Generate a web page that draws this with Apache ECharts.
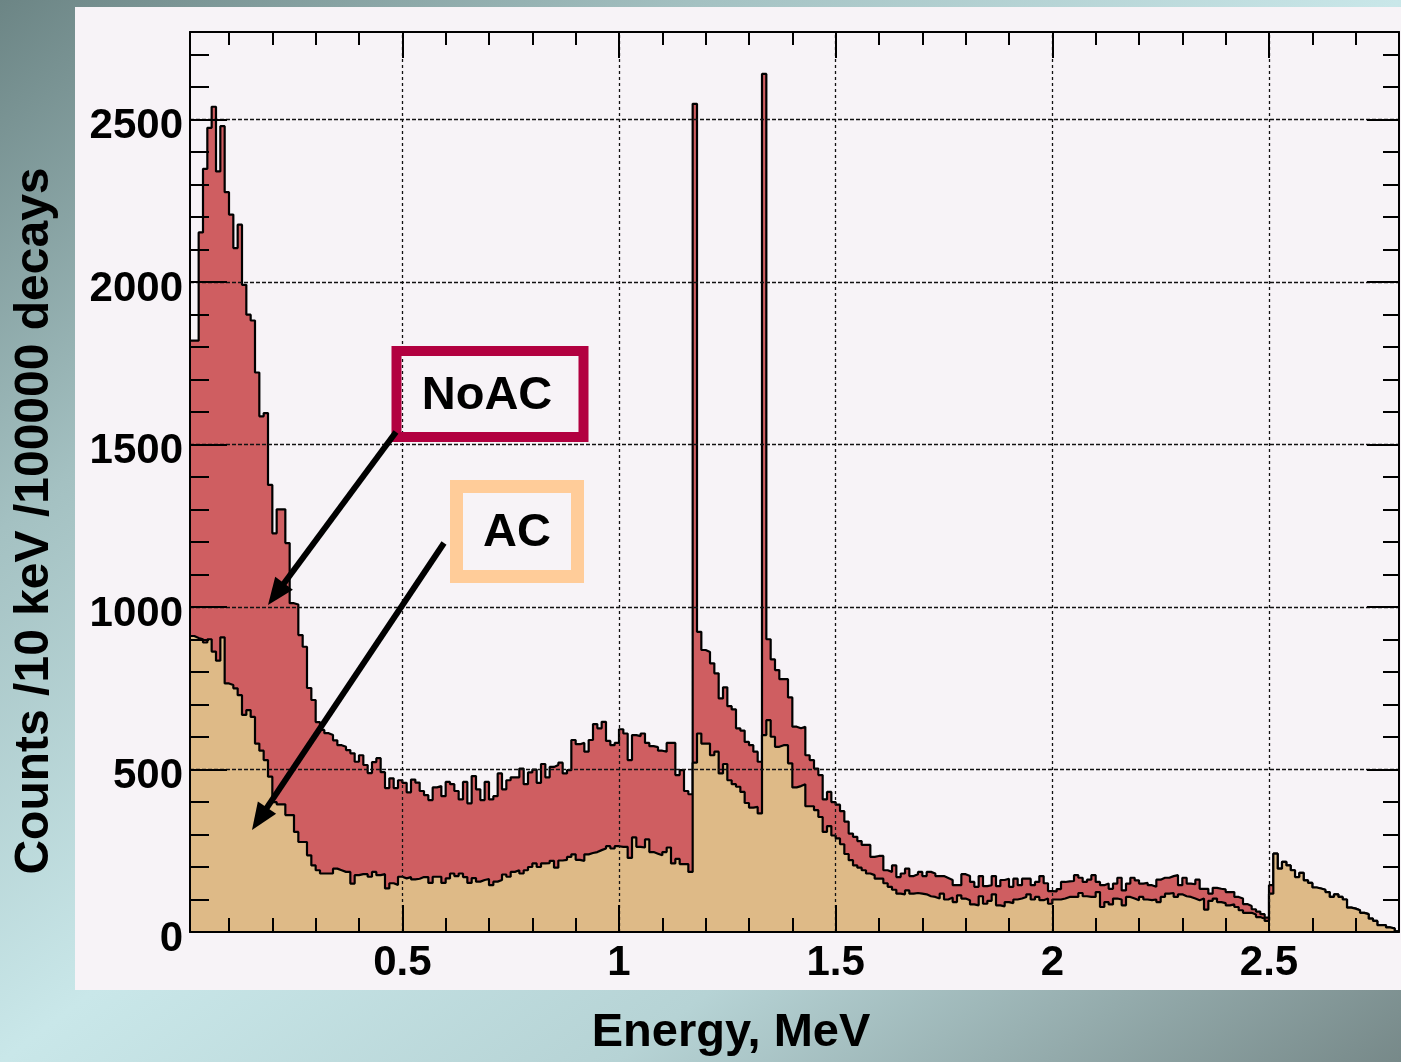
<!DOCTYPE html>
<html>
<head>
<meta charset="utf-8">
<title>Energy spectrum NoAC / AC</title>
<script src="https://cdn.jsdelivr.net/npm/echarts@6.0.0/dist/echarts.min.js"></script>
<style>
html, body { margin: 0; padding: 0; }
#wrap {
	position: relative; width: 1401px; height: 1062px; overflow: hidden;
	background: linear-gradient(to bottom right, #6c8585 0%, #a4c1c2 25%, #c9e7e9 50%, #b6d3d5 72%, #778989 100%);
}
#panel { position: absolute; left: 75px; top: 7px; width: 1326px; height: 983px; background: #f7f3f7; }
#main { position: absolute; left: 0; top: 0; width: 1401px; height: 1062px; }
</style>
</head>
<body>
<div id="wrap">
	<div id="panel"></div>
	<div id="main"></div>
</div>
<script>
	// 10 keV bins, first bin starts at 0.01 MeV
	var binStart = 0.01;
	var binWidth = 0.01;

	// counts per bin, without anti-compton
	var noAC = [
		1820,1820,2153,2349,2475,2540,2341,2480,2277,2208,
		2105,2177,1992,1900,1882,1722,1587,1597,1376,1227,
		1301,1301,1197,1012,1008,914,878,751,714,646,
		622,612,606,590,575,570,560,550,524,544,
		514,489,523,535,492,443,473,443,467,459,
		430,469,460,434,421,406,445,449,418,462,
		455,434,408,462,396,480,439,406,462,408,
		418,488,439,467,476,476,503,455,491,500,
		459,517,476,508,514,521,488,498,591,578,
		582,555,591,640,627,647,588,575,582,624,
		611,529,606,603,611,582,572,569,558,555,
		582,582,483,498,434,424,2549,924,868,862,
		827,796,719,753,695,685,627,620,585,575,
		555,524,2641,901,839,806,778,778,722,632,
		627,632,544,529,503,483,408,431,400,392,
		372,340,303,293,280,268,268,231,234,234,
		190,185,205,169,180,195,172,178,185,172,
		185,180,172,172,166,160,144,144,178,172,
		154,139,172,141,144,172,141,160,164,139,
		164,144,164,164,144,154,172,150,126,125,
		132,154,156,157,175,167,154,161,175,154,
		144,149,133,149,167,128,149,167,159,149,
		151,144,139,161,167,167,172,175,144,167,
		149,147,161,133,133,118,136,133,131,123,
		123,108,103,86,80,70,63,55,44,144,
		241,195,216,205,190,169,182,159,151,137,
		134,130,123,108,116,108,100,75,72,67,
		59,55,41,34,21,21,14,11,2
	];
	// counts per bin, with anti-compton
	var ac = [
		911,905,901,891,901,863,835,907,765,760,
		750,729,668,683,662,580,558,529,478,400,
		393,393,360,360,308,277,277,236,205,190,
		180,180,180,195,190,185,185,149,175,178,
		178,170,185,175,178,134,150,145,170,165,
		169,162,164,169,169,151,170,170,151,165,
		180,172,180,169,151,166,155,160,163,144,
		155,160,177,170,185,190,180,190,200,211,
		200,211,212,219,198,220,222,231,239,222,
		219,239,243,246,252,257,264,257,264,262,
		262,228,291,262,260,285,246,241,236,246,
		260,211,225,209,209,185,521,611,580,580,
		544,555,488,517,467,455,447,431,397,383,
		385,365,606,652,601,570,575,575,519,445,
		449,455,387,387,375,354,308,326,297,288,
		270,240,221,205,198,190,180,175,164,164,
		150,139,130,118,116,128,118,120,118,116,
		110,108,103,118,100,106,92,113,103,98,
		85,82,110,87,96,116,82,79,92,89,
		100,103,108,116,100,108,98,103,87,100,
		100,103,108,108,108,120,110,108,108,123,
		77,92,85,103,100,82,108,103,98,108,
		100,98,100,92,108,118,120,108,116,110,
		108,103,98,103,69,96,103,92,89,82,
		85,77,67,59,59,54,46,41,34,118,
		241,195,216,205,190,169,182,159,151,137,
		134,130,123,108,116,108,100,75,72,67,
		59,55,41,34,21,21,14,11,2
	];

	var xMajor = [0.5, 1, 1.5, 2, 2.5];
	var yMajor = [0, 500, 1000, 1500, 2000, 2500];
	var xMin = 0.01, xMax = 2.8;
	var yMin = 0, yMax = 2770;

	var xMinor = [];
	for (var k = 1; k <= 27; k++) { if (k % 5) xMinor.push(k / 10); }
	var yMinor = [];
	for (var j = 1; j <= 27; j++) { if (j % 5) yMinor.push(j * 100); }

	var FONT = '"Liberation Sans", Arial, sans-serif';

	// bin edges -> step points
	function toSteps(vals) {
		var pts = vals.map(function(v, i) {
			return [Math.round((binStart + i * binWidth) * 100) / 100, v];
		});
		pts.push([Math.round((binStart + vals.length * binWidth) * 100) / 100, vals[vals.length - 1]]);
		return pts;
	}
	function plain(v) { return String(v); }

	function xAxisDef(pos, ticks, len, withLine, withLabel) {
		return {
			type: 'value', position: pos, min: xMin, max: xMax, z: 5,
			axisLine: { show: withLine, onZero: false, lineStyle: { color: '#000', width: 2 } },
			axisTick: { show: true, inside: true, length: len, customValues: ticks, lineStyle: { color: '#000', width: 2 } },
			axisLabel: withLabel ? {
				show: true, customValues: xMajor, margin: 10, formatter: plain,
				color: '#000', fontSize: 42, fontWeight: 'bold', fontFamily: FONT
			} : { show: false },
			splitLine: { show: false }
		};
	}
	function yAxisDef(pos, ticks, len, withLine, withLabel) {
		return {
			type: 'value', position: pos, min: yMin, max: yMax, z: 5,
			axisLine: { show: withLine, onZero: false, lineStyle: { color: '#000', width: 2 } },
			axisTick: { show: true, inside: true, length: len, customValues: ticks, lineStyle: { color: '#000', width: 2 } },
			axisLabel: withLabel ? {
				show: true, customValues: yMajor, margin: 7, formatter: plain,
				verticalAlign: 'top', lineHeight: 14,
				color: '#000', fontSize: 42, fontWeight: 'bold', fontFamily: FONT
			} : { show: false },
			splitLine: { show: false }
		};
	}

	function $each(arr, fn) { for (var i = 0; i < arr.length; i++) fn(arr[i], i); }

	// dashed grid lines (drawn behind the histograms)
	var gridLines = [];
	$each(xMajor, function(v) {
		gridLines.push({ xAxis: v, lineStyle: { color: '#111', width: 1.3, type: [3, 3] } });
	});
	$each(yMajor.slice(1), function(v) {
		gridLines.push({ yAxis: v, lineStyle: { color: '#111', width: 1.3, type: [4, 2] } });
	});

	// annotation arrows: [x1, y1, x2, y2] in px
	function arrow(x1, y1, x2, y2) {
		var dx = x2 - x1, dy = y2 - y1, l = Math.sqrt(dx * dx + dy * dy);
		var ux = dx / l, uy = dy / l, hl = 27, hw = 11;
		var bx = x2 - ux * hl, by = y2 - uy * hl;
		return [
			{ type: 'line', z: 20, silent: true,
			  shape: { x1: x1, y1: y1, x2: bx + ux * 4, y2: by + uy * 4 },
			  style: { stroke: '#000', lineWidth: 6 } },
			{ type: 'polygon', z: 20, silent: true,
			  shape: { points: [[x2, y2], [bx - uy * hw, by + ux * hw], [bx + uy * hw, by - ux * hw]] },
			  style: { fill: '#000' } }
		];
	}

	var graphics = [
		{ type: 'text', x: 35, y: 521, rotation: Math.PI / 2, z: 20, silent: true,
		  style: { text: 'Counts /10 keV /100000 decays', font: 'bold 48px ' + FONT, fill: '#000', align: 'center', verticalAlign: 'middle' } },
		{ type: 'text', x: 731, y: 1033, z: 20, silent: true,
		  style: { text: 'Energy, MeV', font: 'bold 47px ' + FONT, fill: '#000', align: 'center', verticalAlign: 'middle' } },
		{ type: 'rect', z: 20, silent: true, shape: { x: 396.5, y: 351, width: 187, height: 86 },
		  style: { fill: 'rgba(0,0,0,0)', stroke: '#b20040', lineWidth: 10 } },
		{ type: 'text', x: 487, y: 396, z: 20, silent: true,
		  style: { text: 'NoAC', font: 'bold 47px ' + FONT, fill: '#000', align: 'center', verticalAlign: 'middle' } },
		{ type: 'rect', z: 20, silent: true, shape: { x: 456.5, y: 486.5, width: 121, height: 90 },
		  style: { fill: 'rgba(0,0,0,0)', stroke: '#ffcc99', lineWidth: 13 } },
		{ type: 'text', x: 517, y: 533, z: 20, silent: true,
		  style: { text: 'AC', font: 'bold 47px ' + FONT, fill: '#000', align: 'center', verticalAlign: 'middle' } }
	].concat(arrow(396, 432, 268, 605)).concat(arrow(444, 543, 252, 830));

	var myChart = echarts.init(document.getElementById('main'), null, { renderer: 'canvas' });
	var option = {
		animation: false,
		backgroundColor: 'transparent',
		grid: { left: 190, top: 32, right: 2, bottom: 130, containLabel: false, outerBoundsMode: 'none' },
		xAxis: [
			xAxisDef('bottom', xMajor, 27, true, true),
			xAxisDef('bottom', xMinor, 14, false, false),
			xAxisDef('top', xMajor, 26, true, false),
			xAxisDef('top', xMinor, 13, false, false)
		],
		yAxis: [
			yAxisDef('left', yMajor, 37, true, true),
			yAxisDef('left', yMinor, 19, false, false),
			yAxisDef('right', yMajor, 32, true, false),
			yAxisDef('right', yMinor, 16, false, false)
		],
		series: [
			{
				name: 'grid', type: 'line', data: [], z: 1, silent: true,
				markLine: { silent: true, symbol: 'none', animation: false, label: { show: false }, data: gridLines }
			},
			{
				name: 'NoAC', type: 'line', step: 'end', data: toSteps(noAC), z: 2,
				symbol: 'none', silent: true,
				lineStyle: { color: '#000', width: 2.2 },
				areaStyle: { color: '#cf5e61', opacity: 1 }
			},
			{
				name: 'AC', type: 'line', step: 'end', data: toSteps(ac), z: 3,
				symbol: 'none', silent: true,
				lineStyle: { color: '#000', width: 2.2 },
				areaStyle: { color: '#deba87', opacity: 1 }
			}
		],
		graphic: graphics
	};
	if (option && typeof option === "object") {
		myChart.setOption(option, true);
	}
</script>
</body>
</html>
